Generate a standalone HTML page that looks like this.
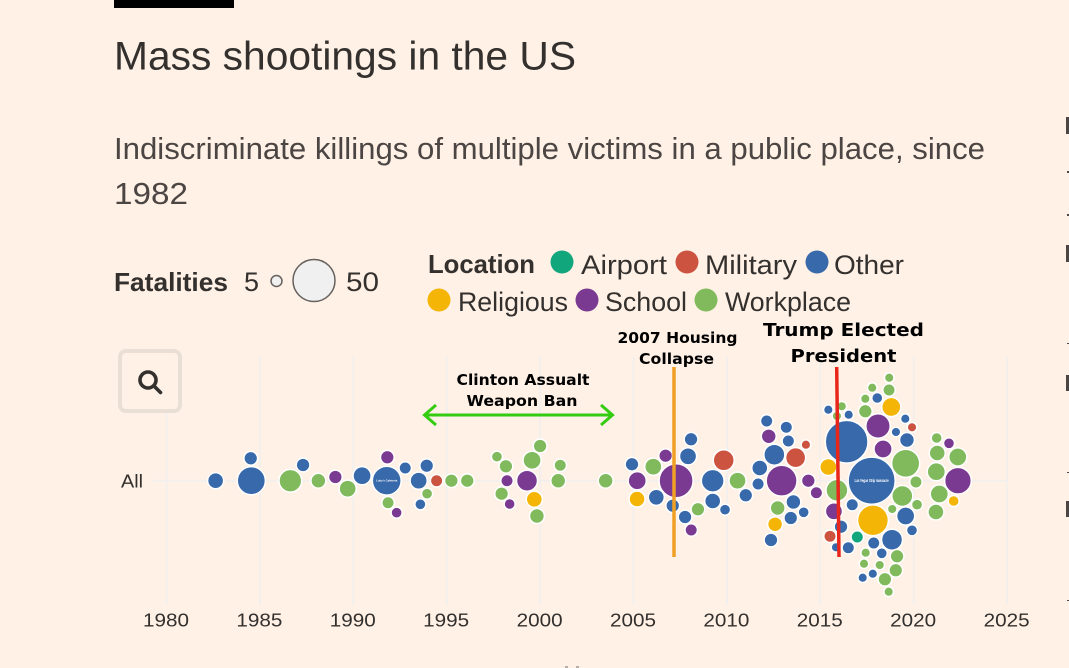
<!DOCTYPE html>
<html lang="en">
<head>
<meta charset="utf-8">
<title>Mass shootings in the US</title>
<style>
html,body{margin:0;padding:0;background:#fff1e6;width:1069px;height:668px;overflow:hidden}
svg{display:block}
text{font-family:"Liberation Sans",sans-serif;fill:#33302e}
.anno{font-family:"DejaVu Sans",sans-serif;font-weight:700;fill:#000}
</style>
</head>
<body>
<svg id="chart" width="1069" height="668" viewBox="0 0 1069 668" xmlns="http://www.w3.org/2000/svg">
  <rect x="0" y="0" width="1069" height="668" fill="#fff1e6"/>
  <rect x="114" y="0" width="120" height="8" fill="#000"/>
  <text x="114" y="69.5" font-size="40" textLength="462" lengthAdjust="spacingAndGlyphs">Mass shootings in the US</text>
  <text x="114" y="159" font-size="31" textLength="871" lengthAdjust="spacingAndGlyphs" style="fill:#4b4543">Indiscriminate killings of multiple victims in a public place, since</text>
  <text x="114" y="204" font-size="31" textLength="74" lengthAdjust="spacingAndGlyphs" style="fill:#4b4543">1982</text>

  <g>
    <text x="114" y="291" font-size="26" font-weight="700" textLength="114" lengthAdjust="spacingAndGlyphs">Fatalities</text>
    <text x="244" y="291" font-size="27" textLength="15" lengthAdjust="spacingAndGlyphs">5</text>
    <circle cx="276.5" cy="281" r="5.5" fill="#f0f0f0" stroke="#66605c" stroke-width="1.5"/>
    <circle cx="314" cy="280.5" r="21" fill="#f0f0f0" stroke="#66605c" stroke-width="1.5"/>
    <text x="346" y="291" font-size="27" textLength="33" lengthAdjust="spacingAndGlyphs">50</text>
  </g>

  <g>
    <text x="428" y="273" font-size="26" font-weight="700" textLength="107" lengthAdjust="spacingAndGlyphs">Location</text>
    <g><circle cx="562" cy="262" r="11.5" fill="#12a67c"/><text x="581" y="274" font-size="27" textLength="86" lengthAdjust="spacingAndGlyphs">Airport</text></g>
    <g><circle cx="687" cy="262" r="11.5" fill="#cc5340"/><text x="705" y="274" font-size="27" textLength="92" lengthAdjust="spacingAndGlyphs">Military</text></g>
    <g><circle cx="817" cy="262" r="11.5" fill="#3869ab"/><text x="834" y="274" font-size="27" textLength="70" lengthAdjust="spacingAndGlyphs">Other</text></g>
    <g><circle cx="439" cy="300" r="11.5" fill="#f4b506"/><text x="458" y="311" font-size="27" textLength="110" lengthAdjust="spacingAndGlyphs">Religious</text></g>
    <g><circle cx="587" cy="300" r="11.5" fill="#7b3a92"/><text x="605" y="311" font-size="27" textLength="82" lengthAdjust="spacingAndGlyphs">School</text></g>
    <g><circle cx="706" cy="300" r="11.5" fill="#81ba5d"/><text x="725" y="311" font-size="27" textLength="126" lengthAdjust="spacingAndGlyphs">Workplace</text></g>
  </g>

  <g id="grid"></g>
  <g id="x-axis"></g>
  <text x="121" y="487.5" font-size="18" textLength="22" lengthAdjust="spacingAndGlyphs">All</text>
  <g id="bubbles"></g>

  <g>
    <rect x="120" y="351" width="60" height="60" rx="6" fill="#fff1e6" stroke="#eadfd5" stroke-width="4"/>
    <circle cx="148" cy="380" r="8" fill="none" stroke="#33302e" stroke-width="3.6"/>
    <line x1="154" y1="386" x2="160.5" y2="392.5" stroke="#33302e" stroke-width="3.6" stroke-linecap="round"/>
  </g>

  <g>
    <text class="anno" x="523" y="385" font-size="15" text-anchor="middle" textLength="133" lengthAdjust="spacingAndGlyphs">Clinton Assualt</text>
    <text class="anno" x="522" y="406" font-size="15" text-anchor="middle" textLength="111" lengthAdjust="spacingAndGlyphs">Weapon Ban</text>
    <path d="M425 415H612M436 405L424.5 415L436 425M601 405L612.5 415L601 425" fill="none" stroke="#33cc11" stroke-width="3"/>
  </g>
  <g>
    <text class="anno" x="677.5" y="343" font-size="15" text-anchor="middle" textLength="120" lengthAdjust="spacingAndGlyphs">2007 Housing</text>
    <text class="anno" x="676.5" y="364" font-size="15" text-anchor="middle" textLength="75" lengthAdjust="spacingAndGlyphs">Collapse</text>
    <line x1="674" y1="367" x2="674" y2="557" stroke="#f0a024" stroke-width="3.5"/>
  </g>
  <g>
    <text class="anno" x="843.5" y="336" font-size="18" text-anchor="middle" textLength="161" lengthAdjust="spacingAndGlyphs">Trump Elected</text>
    <text class="anno" x="843.5" y="362" font-size="18" text-anchor="middle" textLength="106" lengthAdjust="spacingAndGlyphs">President</text>
    <line x1="836.7" y1="367" x2="839" y2="557" stroke="#e8261a" stroke-width="3.5"/>
  </g>

  <g fill="#4b4543">
    <rect x="1066" y="117" width="3" height="17"/>
    <rect x="1067" y="171" width="2" height="2"/>
    <rect x="1067" y="214" width="2" height="2"/>
    <rect x="1066" y="245" width="3" height="17"/>
    <rect x="1067" y="343" width="2" height="1"/>
    <rect x="1066" y="375" width="3" height="16"/>
    <rect x="1067" y="472" width="2" height="1"/>
    <rect x="1066" y="501" width="3" height="16"/>
    <rect x="1067" y="600" width="2" height="1"/>
    <rect x="565" y="666" width="3" height="2" fill="#b5aea8"/>
    <rect x="576" y="666" width="3" height="2" fill="#b5aea8"/>
  </g>
</svg>
<script>
// Chart data.
const xTicks = [1980,1985,1990,1995,2000,2005,2010,2015,2020,2025];

// Date of each shooting, as a decimal year.
const years = [
1982.63,1984.51,1984.54,1986.63,1987.31,1988.13,1989.04,1989.70,1990.47,1991.79,
1991.82,1992.78,1993.93,1993.50,1994.46,1995.25,1993.95,1993.59,1991.86,1992.32,
1996.10,1997.69,1998.17,1998.23,1999.30,1999.57,2000.00,2001.08,2000.97,1997.94,
1998.37,1999.69,1999.83,2003.51,2004.92,2006.06,2005.20,2005.19,2006.22,2006.72,
2007.28,2007.92,2008.08,2007.10,2007.76,2008.45,2008.09,2009.24,2009.83,2009.24,
2009.90,2010.57,2011.01,2012.13,2013.18,2012.24,2013.29,2014.23,2012.54,2013.68,
2011.76,2012.93,2011.67,2014.36,2014.79,2013.56,2012.72,2014.11,2013.42,2012.58,
2012.36,2015.43,2016.15,2015.89,2016.52,2016.41,2015.43,2015.89,2015.73,2016.71,
2016.11,2015.52,2015.84,2016.50,2016.98,2017.75,2017.82,2018.84,2018.69,2017.78,
2018.68,2018.05,2017.41,2018.80,2017.41,2018.09,2019.55,2019.91,2019.05,2019.64,
2018.36,2019.57,2020.12,2019.39,2020.18,2018.85,2019.57,2019.91,2017.86,2017.43,
2018.29,2019.11,2017.34,2018.18,2019.04,2017.27,2017.81,2018.46,2018.66,2021.23,
2021.89,2021.26,2022.36,2021.21,2022.37,2021.37,2022.14,2021.19];

// Beeswarm displacement from the row centre, as a fraction of the row's half-height.
const swarm = [
0,-.224,0,0,-.157,0,-.037,.08,-.05,0,
-.234,-.127,-.15,0,0,0,.13,.236,.22,.32,
0,-.24,-.144,0,0,-.204,-.347,-.154,0,.13,
.233,.186,.353,0,-.164,-.14,0,.183,.166,-.25,
0,-.244,-.414,.25,.363,.286,.493,0,-.204,.203,
.29,0,.146,-.597,-.534,-.444,-.397,-.36,-.26,-.23,
-.127,0,.033,0,.12,.213,.273,.316,.373,.436,
.593,-.71,-.744,-.647,-.66,-.39,-.137,.096,.306,.24,
.46,.556,.666,.67,.563,0,.396,.59,-1.03,-.93,
-.907,-.827,-.82,-.737,-.694,-.547,-.62,-.534,-.487,-.407,
-.317,-.174,.013,.153,.24,.283,.353,.496,.623,.72,
.726,.756,.83,.843,.896,.97,.93,.986,1.11,-.427,
-.374,-.277,-.237,-.09,0,.133,.203,.313];

// Fatalities, estimated from each bubble's area.
const fatalities = [
10,8,24,17,8,9,8,11,12,25,
8,7,8,11,7,8,6,6,7,6,
8,6,8,7,15,12,8,7,9,8,
6,10,9,9,8,11,12,10,10,8,
33,11,8,8,8,8,7,17,15,10,
6,11,8,7,7,9,7,5,15,14,
10,28,7,8,7,9,9,6,8,9,
8,5,5,5,5,49,11,16,11,7,
8,7,5,7,7,58,28,15,5,5,
7,6,5,13,8,19,5,5,5,9,
12,24,7,15,6,5,12,6,7,5,
6,8,5,5,8,5,5,8,5,6,
6,10,12,12,22,12,6,10];

// Location type: A airport, M military, O other, R religious, S school, W workplace.
const locations = [
"O","O","O","W","O","W","S","W","O","O",
"S","O","O","O","M","W","W","O","W","S",
"W","W","W","S","S","W","W","W","W","W",
"S","R","W","W","O","W","S","R","O","S",
"S","O","O","O","O","W","S","O","M","O",
"O","W","O","O","O","S","O","M","O","M",
"O","S","O","S","S","O","W","O","O","R",
"O","O","W","W","O","O","R","W","S","O",
"O","M","O","O","A","O","R","O","W","W",
"W","O","W","R","W","S","O","M","O","O",
"S","W","W","W","W","W","O","O","O","W",
"O","W","W","W","W","O","O","W","W","W",
"S","W","W","W","S","W","R","W"];

const locationColours = {A:"#12a67c",M:"#cc5340",O:"#3869ab",R:"#f4b506",S:"#7b3a92",W:"#81ba5d"};
const bubbleLabels = [
  {year:1991.79, text:"Luby's Cafeteria", size:2.8, width:21},
  {year:2017.75, text:"Las Vegas Strip massacre", size:4.2, width:34}
];

const NS = "http://www.w3.org/2000/svg";
const rowY = 480.7;
const xScale = function (year) { return 166.5 + (year - 1980) * 18.68; };
const yScale = function (offset) { return rowY + offset * 100; };
const rScale = function (count) { return 3.48 * Math.sqrt(count) - 3.58; };

const grid = document.getElementById("grid");
const axis = document.getElementById("x-axis");
const bubbles = document.getElementById("bubbles");

const rowLine = document.createElementNS(NS, "line");


rowLine.setAttribute("x1", 152);
rowLine.setAttribute("x2", xScale(2025));
rowLine.setAttribute("y1", rowY);
rowLine.setAttribute("y2", rowY);
rowLine.setAttribute("stroke", "#f3efec");
rowLine.setAttribute("stroke-width", 2);
grid.appendChild(rowLine);

xTicks.forEach(function (tick) {
  const line = document.createElementNS(NS, "line");
  
  
  line.setAttribute("x1", xScale(tick));
  line.setAttribute("x2", xScale(tick));
  line.setAttribute("y1", 357);
  line.setAttribute("y2", 605);
  line.setAttribute("stroke", "#f3efec");
  line.setAttribute("stroke-width", 2);
  grid.appendChild(line);

  const label = document.createElementNS(NS, "text");
  
  
  label.setAttribute("x", xScale(tick) - 0.5);
  label.setAttribute("y", 626.5);
  label.setAttribute("text-anchor", "middle");
  label.setAttribute("font-size", 18.5);
  label.setAttribute("textLength", 46);
  label.setAttribute("lengthAdjust", "spacingAndGlyphs");
  label.textContent = tick;
  axis.appendChild(label);
});

years.forEach(function (year, i) {
  const dot = document.createElementNS(NS, "circle");
  
  
  dot.setAttribute("cx", xScale(year));
  dot.setAttribute("cy", yScale(swarm[i]));
  dot.setAttribute("r", rScale(fatalities[i]) + 0.6);
  dot.setAttribute("fill", locationColours[locations[i]]);
  dot.setAttribute("stroke", "#ffffff");
  dot.setAttribute("stroke-width", 1.5);
  bubbles.appendChild(dot);
});

bubbleLabels.forEach(function (item) {
  const text = document.createElementNS(NS, "text");
  
  
  text.setAttribute("x", xScale(item.year));
  text.setAttribute("y", rowY + item.size * 0.35);
  text.setAttribute("text-anchor", "middle");
  text.setAttribute("font-size", item.size);
  text.setAttribute("font-weight", "700");
  text.setAttribute("textLength", item.width);
  text.setAttribute("lengthAdjust", "spacingAndGlyphs");
  text.style.fill = "#ffffff";
  text.textContent = item.text;
  bubbles.appendChild(text);
});
</script>
</body>
</html>
